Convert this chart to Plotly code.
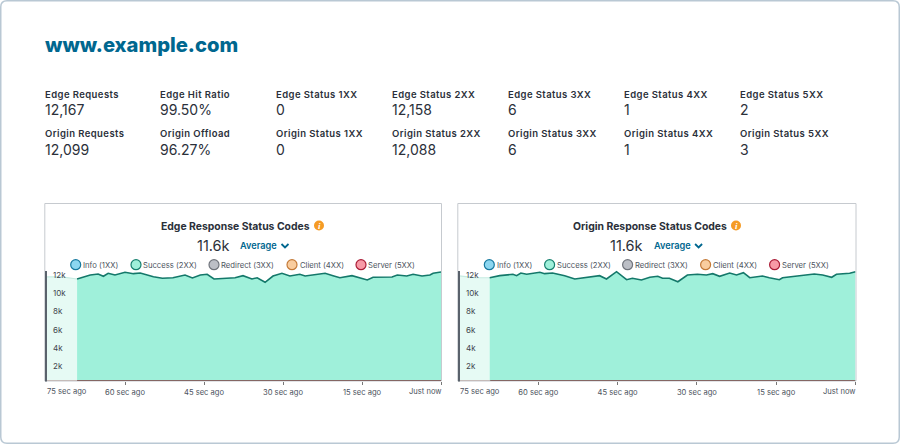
import plotly.graph_objects as go

W, H = 900, 444

# ---- data ----
domain = "www.example.com"
stat_labels_top = ["Edge Requests", "Edge Hit Ratio", "Edge Status 1XX", "Edge Status 2XX",
                   "Edge Status 3XX", "Edge Status 4XX", "Edge Status 5XX"]
stat_values_top = ["12,167", "99.50%", "0", "12,158", "6", "1", "2"]
stat_labels_bot = ["Origin Requests", "Origin Offload", "Origin Status 1XX", "Origin Status 2XX",
                   "Origin Status 3XX", "Origin Status 4XX", "Origin Status 5XX"]
stat_values_bot = ["12,099", "96.27%", "0", "12,088", "6", "1", "3"]
legend_names = ["Info (1XX)", "Success (2XX)", "Redirect (3XX)", "Client (4XX)", "Server (5XX)"]
x_tick_vals = [60, 45, 30, 15]
x_tick_text = ["60 sec ago", "45 sec ago", "30 sec ago", "15 sec ago"]
y_tick_vals = [2000, 4000, 6000, 8000, 10000, 12000]
y_tick_text = ["2k", "4k", "6k", "8k", "10k", "12k"]

edge_secs = [69.1, 67.9, 66.6, 65.1, 64.1, 63.2, 61.9, 60, 58.4, 57.1, 54.6, 52.9, 50.9, 48.6, 47.2,
             45.7, 44.4, 43.1, 40.6, 39.1, 37.6, 35.9, 34.9, 33.4, 31.9, 30.2, 28.7, 26.8, 25.8, 23.9,
             22, 20.5, 19.2, 16.9, 15.7, 14, 12.9, 9.3, 8.3, 6.5, 5.3, 3.6, 2.1, 1.5, 0]
edge_vals = [11270, 11490, 11710, 11820, 11570, 11900, 11710, 12010, 11860, 11930, 11520, 11350, 11410,
             11710, 11380, 11710, 11790, 11270, 11350, 11410, 11640, 11270, 11410, 10910, 11600, 11900,
             11600, 11790, 11600, 11710, 11900, 11640, 11410, 11640, 11410, 11160, 11460, 11490, 11710,
             11600, 11790, 11600, 11710, 11900, 12040]
edge_early_secs = [75, 72, 69.1]
edge_early_vals = [11510, 11500, 11270]

origin_secs = [69.2, 67.3, 64.8, 64.1, 63.3, 62.2, 59.7, 58.8, 57.3, 55, 53.1, 50.3, 48.4, 47.1, 45.2,
               43.3, 42.2, 40.5, 38.9, 37.4, 36.5, 35.2, 33.6, 31.8, 29.9, 28.2, 27, 25.7, 23.8, 22.5,
               21.2, 20, 17.6, 16.3, 14.4, 13.8, 10.6, 7.8, 6.2, 4.5, 3.6, 1.1, 0]
origin_vals = [11410, 11640, 11790, 11640, 11930, 11790, 12010, 11860, 11930, 11640, 11270, 11490, 11640,
               11270, 12080, 11190, 11350, 11160, 11460, 11570, 11350, 11350, 10970, 11710, 11790, 11710,
               11860, 11570, 11930, 11710, 11970, 11410, 11600, 11410, 11190, 11410, 11640, 11820, 11710,
               11460, 11790, 11900, 12080]
origin_early_secs = [75, 72, 69.2]
origin_early_vals = [11620, 11420, 11410]

server_secs = [69.1, 64, 59, 54, 49, 44, 39, 34, 29, 24, 19, 14, 9, 4, 0]
server_vals = [3, 3, 3, 3, 3, 3, 3, 3, 3, 3, 3, 3, 3, 3, 3]
server_early_secs = [75, 69.1]
server_early_vals = [3, 3]

# ---- styles ----
TEAL = "#00678f"
INK = "#2b303a"
GREY = "#4d545e"
FONT = "Inter"
FILL, FILL_LINE = "#9ff0da", "#14786a"
PALE, PALE_LINE = "#e6faf4", "#c6ebe1"
LEG_FILL = ["#8cd6f0", "#9ff0da", "#bcbfc6", "#f9cd9f", "#f89aa6"]
LEG_LINE = ["#17799f", "#17806f", "#70747c", "#c47a38", "#aa1c36"]


def px(x):
    return x / W


def py(y):
    return 1 - y / H


fig = go.Figure()
annotations = []
shapes = []


def text(x, y, s, size, color=INK, weight=400, anchor="left"):
    annotations.append(dict(x=px(x), y=py(y), xref="paper", yref="paper", text=s, showarrow=False,
                            xanchor=anchor, yanchor="middle", align=anchor, borderpad=0, borderwidth=0,
                            font=dict(family=FONT, size=size, color=color, weight=weight)))


shapes.append(dict(type="path", xref="paper", yref="paper", layer="below",
                   path=f"M {px(7)} {py(.75)} L {px(893)} {py(.75)} Q {px(899.25)} {py(.75)} {px(899.25)} {py(7)} "
                        f"L {px(899.25)} {py(437)} Q {px(899.25)} {py(443.25)} {px(893)} {py(443.25)} "
                        f"L {px(7)} {py(443.25)} Q {px(.75)} {py(443.25)} {px(.75)} {py(437)} "
                        f"L {px(.75)} {py(7)} Q {px(.75)} {py(.75)} {px(7)} {py(.75)} Z",
                   line=dict(color="#b9c8d4", width=1.5), fillcolor="white"))

text(44.5, 45, domain, 20.2, TEAL, 800)
col_x = [44.8, 160.3, 276, 392, 508, 624, 740]
for cx, a, b, c, d in zip(col_x, stat_labels_top, stat_values_top, stat_labels_bot, stat_values_bot):
    text(cx, 94, a, 9.5, INK, 600)
    text(cx, 109.5, b, 14, INK, 400)
    text(cx, 133.5, c, 9.5, INK, 600)
    text(cx, 149, d, 14, INK, 400)

panels = [
    dict(sfx="", left=46, right=441, title="Edge Response Status Codes", tcx=235.5, icon=319, sx=edge_secs,
         sv=edge_vals, ex=edge_early_secs, ev=edge_early_vals, off=0),
    dict(sfx="2", left=459, right=855.5, title="Origin Response Status Codes", tcx=650, icon=736, sx=origin_secs,
         sv=origin_vals, ex=origin_early_secs, ev=origin_early_vals, off=413.6),
]
leg_cx = [75.7, 136, 214, 292, 361]
leg_tx = [83, 143, 221, 299.7, 368]

for p in panels:
    xa, ya = "x" + p["sfx"], "y" + p["sfx"]
    shapes.append(dict(type="rect", xref="paper", yref="paper", layer="below",
                       x0=px(p["left"] - 1.2), x1=px(p["right"] + .5), y0=py(381), y1=py(203.5),
                       line=dict(color="#c6cacf", width=1), fillcolor="white"))
    # dark value-axis rule, only as tall as the data area
    shapes.append(dict(type="line", xref="paper", yref="paper", layer="above",
                       x0=px(p["left"]), x1=px(p["left"]), y0=py(381.5), y1=py(271),
                       line=dict(color="#5a626c", width=2)))
    fig.add_trace(go.Scatter(x=p["ex"], y=p["ev"], xaxis=xa, yaxis=ya, mode="lines", fill="tozeroy",
                             fillcolor=PALE, line=dict(color=PALE_LINE, width=1.2), showlegend=False))
    fig.add_trace(go.Scatter(x=p["sx"], y=p["sv"], xaxis=xa, yaxis=ya, mode="lines", fill="tozeroy",
                             fillcolor=FILL, line=dict(color=FILL_LINE, width=1.6), showlegend=False))
    fig.add_trace(go.Scatter(x=server_early_secs, y=server_early_vals, xaxis=xa, yaxis=ya, mode="lines",
                             line=dict(color="#b9a3a3", width=1.4), cliponaxis=False, showlegend=False))
    fig.add_trace(go.Scatter(x=server_secs, y=server_vals, xaxis=xa, yaxis=ya, mode="lines",
                             line=dict(color="#7c3a3c", width=1.5), cliponaxis=False, showlegend=False))
    o = p["off"]
    text(p["tcx"], 226, p["title"], 10.4, INK, 700, "center")
    cx = p["icon"]
    shapes.append(dict(type="circle", xref="paper", yref="paper", x0=px(cx - 5), x1=px(cx + 5),
                       y0=py(230.5), y1=py(220.5), line=dict(width=0), fillcolor="#f59b25"))
    annotations.append(dict(x=px(cx), y=py(225.5), xref="paper", yref="paper", text="<i><b>i</b></i>", showarrow=False,
                            borderpad=0, xanchor="center", yanchor="middle",
                            font=dict(family="Liberation Serif", size=9, color="white")))
    text(213 + o - (.5 if o else 0), 245, "11.6k", 14.5, INK, 400, "center")
    text(240 + o, 245.5, "Average", 9.2, TEAL, 600)
    ch = 285 + o
    shapes.append(dict(type="path", xref="paper", yref="paper",
                       path=f"M {px(ch-3.5)} {py(244)} L {px(ch)} {py(247.5)} L {px(ch+3.5)} {py(244)}",
                       line=dict(color=TEAL, width=1.8)))
    for name, c, t, fc, lc in zip(legend_names, leg_cx, leg_tx, LEG_FILL, LEG_LINE):
        shapes.append(dict(type="circle", xref="paper", yref="paper", x0=px(c + o - 5), x1=px(c + o + 5),
                           y0=py(269.7), y1=py(259.7), line=dict(color=lc, width=1.2), fillcolor=fc))
        text(t + o, 265, name, 7.7, GREY, 400)
    text(p["left"] + .5, 391.5, "75 sec ago", 7.6, GREY)
    text(p["right"] + .5, 391.5, "Just now", 7.6, GREY, 400, "right")

    ax_x = dict(domain=[px(p["left"]), px(p["right"])], range=[75, 0], anchor=ya, tickvals=[75] + x_tick_vals + [0],
                ticktext=[""] + x_tick_text + [""], ticks="outside", ticklen=3, tickwidth=1, tickcolor="#777",
                tickfont=dict(family=FONT, size=7.6, color=GREY), showgrid=False, zeroline=False, showline=False,
                ticklabelstandoff=1)
    # domain reaches above the data so that the 12k label is kept; same px-per-unit as before
    ax_y = dict(domain=[py(381), py(251)], range=[0, 14365], anchor=xa, tickvals=y_tick_vals, ticktext=y_tick_text,
                ticklabelposition="inside", ticks="", ticklabelshift=3, ticklabelstandoff=4,
                tickfont=dict(family=FONT, size=8, color="#3f454e"), showgrid=False, zeroline=False,
                showline=False)
    fig.update_layout(**{"xaxis" + p["sfx"]: ax_x, "yaxis" + p["sfx"]: ax_y})

fig.update_layout(width=W, height=H, margin=dict(l=0, r=0, t=0, b=0), paper_bgcolor="white",
                  plot_bgcolor="rgba(0,0,0,0)", showlegend=False, annotations=annotations, shapes=shapes,
                  font=dict(family=FONT))
fig.write_html("out.html", config=dict(displayModeBar=False),
               post_script="document.body.style.margin='0';document.body.style.overflow='hidden';"
                           "document.querySelectorAll('.annotation-text').forEach(function(t){"
                           "if(parseFloat(t.style.fontSize)===9.5){t.style.letterSpacing='0.42px';}"
                           "});")
